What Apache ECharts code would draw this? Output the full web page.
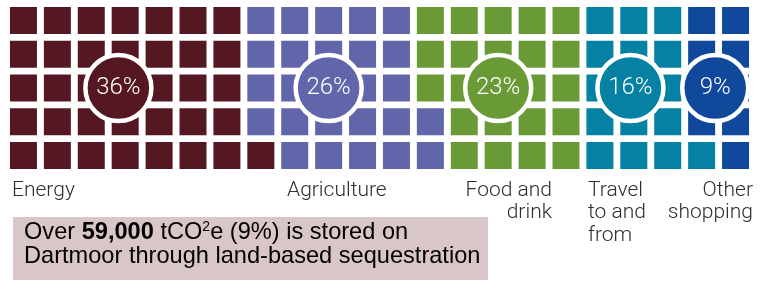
<!DOCTYPE html>
<html>
<head>
<meta charset="utf-8">
<script src="https://cdn.jsdelivr.net/npm/echarts@6/dist/echarts.min.js"></script>
<style>
  html, body { margin: 0; padding: 0; background: #fff; }
  #chart { width: 763px; height: 282px; }
</style>
</head>
<body>
<div id="chart"></div>
<script>
// data
const categories = ['Energy', 'Agriculture', 'Food and\ndrink', 'Travel\nto and\nfrom', 'Other\nshopping'];
const shares = [36, 26, 23, 16, 9]; // one square per percent
const colors = ['#551823', '#6066a9', '#6a9a35', '#0581a3', '#10489b'];
const noteAmount = '59,000';
const noteShare = '9%';

// layout
const ROWS = 5;
const bubbleCol = [2.8, 9.0, 14.0, 17.9, 20.4]; // where each % bubble sits, in column units
const labelPos = [
  { x: 12, align: 'left' },
  { x: 287, align: 'left' },
  { x: 552, align: 'right' },
  { x: 588, align: 'left' },
  { x: 753, align: 'right' }
];

const total = shares.reduce((a, b) => a + b, 0);
const cols = Math.ceil(total / ROWS);

// squares fill column by column, bottom to top
const cells = [];
let k = 0;
shares.forEach((n, i) => {
  for (let j = 0; j < n; j++, k++) {
    cells.push({
      value: [Math.floor(k / ROWS), k % ROWS],
      itemStyle: { color: colors[i] }
    });
  }
});

const bubbles = shares.map((v, i) => ({
  value: [bubbleCol[i], 2],
  itemStyle: { color: colors[i] },
  label: { formatter: v + '%' }
}));

const chart = echarts.init(document.getElementById('chart'));

const labelFont = '300 21px Roboto, "Liberation Sans", sans-serif';
const noteFamily = '"Liberation Sans", Arial, sans-serif';

const option = {
  animation: false,
  grid: { left: 6.5, right: 10.5, top: 3.6, bottom: 109.6 },
  xAxis: { type: 'value', min: -0.5, max: cols - 0.5, show: false },
  yAxis: { type: 'value', min: -0.5, max: ROWS - 0.5, show: false },
  series: [
    {
      type: 'scatter',
      symbol: 'rect',
      symbolSize: 27,
      data: cells,
      silent: true,
      itemStyle: { opacity: 1 },
      z: 2
    },
    {
      type: 'scatter',
      symbol: 'circle',
      symbolSize: 66,
      data: bubbles,
      silent: true,
      z: 3,
      itemStyle: { borderColor: '#fff', borderWidth: 4.5, opacity: 1 },
      label: {
        show: true,
        position: 'inside',
        color: '#fff',
        fontFamily: 'Roboto',
        fontWeight: 300,
        fontSize: 24
      }
    }
  ],
  graphic: [
    ...categories.map((name, i) => ({
      type: 'text',
      x: labelPos[i].x,
      y: 179,
      style: {
        text: name,
        font: labelFont,
        fill: '#2e2e2e',
        align: labelPos[i].align,
        verticalAlign: 'top',
        lineHeight: 22.5
      }
    })),
    {
      type: 'rect',
      shape: { x: 13, y: 217, width: 475, height: 63 },
      style: { fill: '#d9c6c8' }
    },
    {
      type: 'text',
      x: 24,
      y: 220,
      style: {
        rich: {
          n: { fontFamily: noteFamily, fontSize: 23.6, lineHeight: 24.5, color: '#1e1e1e' },
          b: { fontFamily: noteFamily, fontSize: 23.6, lineHeight: 24.5, fontWeight: 'bold', color: '#1e1e1e' },
          s: { fontFamily: noteFamily, fontSize: 14, lineHeight: 14, verticalAlign: 'top', color: '#1e1e1e' }
        },
        text: '{n|Over }{b|' + noteAmount + '}{n| tCO}{s|2}{n|e (' + noteShare + ') is stored on}\n' +
              '{n|Dartmoor through land-based sequestration}',
        verticalAlign: 'top'
      }
    }
  ]
};

chart.setOption(option);
</script>
</body>
</html>
